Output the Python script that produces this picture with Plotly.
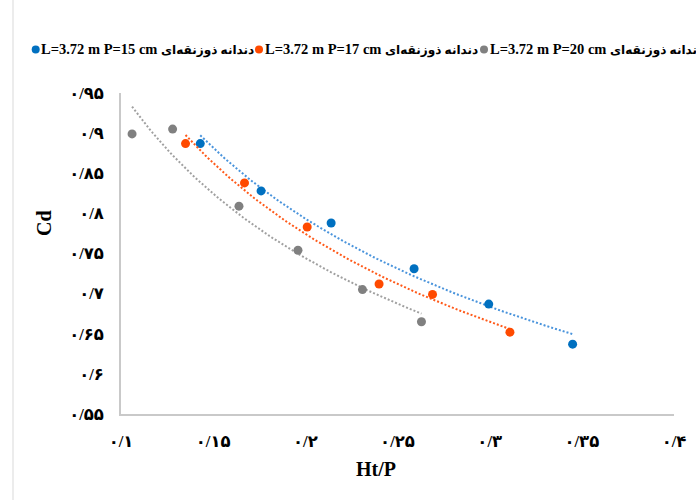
import numpy as np
import plotly.graph_objects as go

# ---- data ----
x_p15 = [0.143, 0.176, 0.214, 0.259, 0.2995, 0.345]
cd_p15 = [0.887, 0.828, 0.788, 0.731, 0.687, 0.637]
x_p17 = [0.135, 0.167, 0.201, 0.240, 0.269, 0.311]
cd_p17 = [0.887, 0.838, 0.783, 0.712, 0.699, 0.652]
x_p20 = [0.106, 0.128, 0.164, 0.196, 0.231, 0.263]
cd_p20 = [0.899, 0.905, 0.809, 0.754, 0.705, 0.665]

series_labels = ["L=3.72 m P=15 cm", "L=3.72 m P=17 cm", "L=3.72 m P=20 cm"]
series_suffix = "دندانه ذوزنقه‌ای"

xtick_vals = [0.1, 0.15, 0.2, 0.25, 0.3, 0.35, 0.4]
xtick_text = ["۰/۱", "۰/۱۵", "۰/۲", "۰/۲۵", "۰/۳", "۰/۳۵", "۰/۴"]
ytick_vals = [0.55, 0.6, 0.65, 0.7, 0.75, 0.8, 0.85, 0.9, 0.95]
ytick_text = ["۰/۵۵", "۰/۶", "۰/۶۵", "۰/۷", "۰/۷۵", "۰/۸", "۰/۸۵", "۰/۹", "۰/۹۵"]

x_title = "Ht/P"
y_title = "Cd"

# ---- styles ----
marker_colors = ["#0070C0", "#FF4A00", "#808080"]
trend_colors = ["#4A94DC", "#FF5A1A", "#A0A0A0"]

W, H = 696, 500
ML, MR, MT, MB = 121, 22, 93, 86
PW, PH = W - ML - MR, H - MT - MB


def px_to_paper_x(px):
    return (px - ML) / PW


def px_to_paper_y(py):
    return (H - MB - py) / PH


fig = go.Figure()

series = [(x_p15, cd_p15), (x_p17, cd_p17), (x_p20, cd_p20)]
for (xs, ys), lab, mc, tc in zip(series, series_labels, marker_colors, trend_colors):
    xs_a = np.array(xs)
    ys_a = np.array(ys)
    # power trendline (least squares in log-log space, as Excel does)
    b, ln_a = np.polyfit(np.log(xs_a), np.log(ys_a), 1)
    xt = np.linspace(xs_a.min(), xs_a.max(), 100)
    yt = np.exp(ln_a) * xt ** b
    fig.add_trace(go.Scatter(
        x=xt, y=yt, mode="lines",
        line=dict(color=tc, width=2, dash="2px,2px"),
        showlegend=False, hoverinfo="skip",
    ))
    fig.add_trace(go.Scatter(
        x=xs, y=ys, mode="markers", name=f"{lab} {series_suffix}",
        marker=dict(color=mc, size=9),
        showlegend=False,
    ))

tick_font = dict(family="Liberation Serif, DejaVu Sans", size=16.5, color="#000000", weight="bold")

fig.update_xaxes(
    range=[0.1, 0.4], tickvals=xtick_vals, ticktext=xtick_text,
    showgrid=False, zeroline=False, showline=True, linecolor="#c9c9c9", linewidth=1.5,
    ticks="", tickfont=tick_font, ticklabelstandoff=11,
)
fig.update_yaxes(
    range=[0.55, 0.95], tickvals=ytick_vals, ticktext=ytick_text,
    showgrid=False, zeroline=False, showline=True, linecolor="#c9c9c9", linewidth=1.5,
    ticks="", tickfont=tick_font, ticklabelstandoff=12,
)

annotations = []
shapes = []
# manual legend row
legend_dot_px = [35.7, 259.0, 484.0]
legend_y_px = 49.5
for lab, mc, dx in zip(series_labels, marker_colors, legend_dot_px):
    shapes.append(dict(
        type="circle", xref="paper", yref="paper",
        xsizemode="pixel", ysizemode="pixel",
        xanchor=px_to_paper_x(dx), yanchor=px_to_paper_y(legend_y_px),
        x0=-4, x1=4, y0=-4, y1=4,
        fillcolor=mc, line=dict(width=0),
    ))
    annotations.append(dict(
        text=f"{lab} <span style='font-size:12.1px'>{series_suffix}</span>",
        xref="paper", yref="paper",
        x=px_to_paper_x(dx + 3.5), y=px_to_paper_y(legend_y_px),
        xanchor="left", yanchor="middle", showarrow=False,
        font=dict(family="Liberation Serif, DejaVu Sans", size=14.5, color="#000000", weight="bold"),
    ))

# axis titles
annotations.append(dict(
    text=y_title, xref="paper", yref="paper",
    x=px_to_paper_x(44), y=px_to_paper_y(223), textangle=-90,
    xanchor="center", yanchor="middle", showarrow=False,
    font=dict(family="Liberation Serif", size=20, color="#000000", weight="bold"),
))
annotations.append(dict(
    text=x_title, xref="paper", yref="paper",
    x=px_to_paper_x(376), y=px_to_paper_y(469),
    xanchor="center", yanchor="middle", showarrow=False,
    font=dict(family="Liberation Serif", size=20, color="#000000", weight="bold"),
))

# chart-area border visible on the left edge
shapes.append(dict(
    type="line", xref="paper", yref="paper",
    x0=px_to_paper_x(13), x1=px_to_paper_x(13),
    y0=px_to_paper_y(500), y1=px_to_paper_y(0),
    line=dict(color="#d9d9d9", width=1),
))

fig.update_layout(
    width=W, height=H,
    margin=dict(l=ML, r=MR, t=MT, b=MB, autoexpand=False),
    paper_bgcolor="white", plot_bgcolor="white",
    showlegend=False,
    annotations=annotations, shapes=shapes,
)

fig.write_html("out.html")
